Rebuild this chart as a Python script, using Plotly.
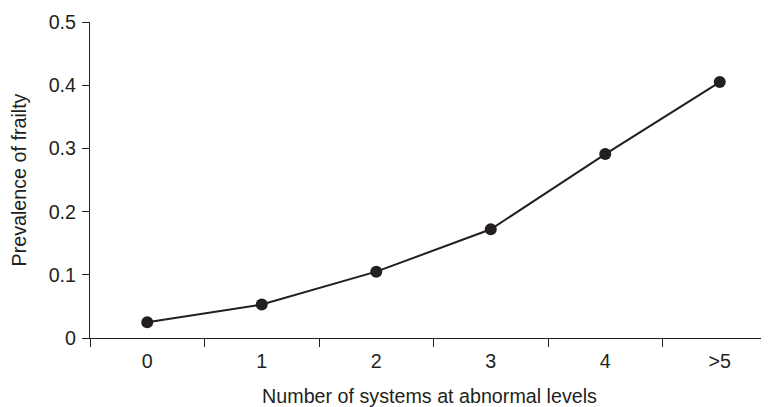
import plotly.graph_objects as go

categories = ["0", "1", "2", "3", "4", ">5"]
prevalence = [0.025, 0.053, 0.105, 0.172, 0.291, 0.405]
y_ticks = [0, 0.1, 0.2, 0.3, 0.4, 0.5]
y_tick_labels = ["0", "0.1", "0.2", "0.3", "0.4", "0.5"]

ink = "#231f20"
family = "Liberation Sans, Arial, sans-serif"
tick_font = dict(family=family, size=19.7, color=ink)
title_font = dict(family=family, size=19.7, color=ink)

fig = go.Figure(go.Scatter(
    x=categories, y=prevalence, mode="lines+markers",
    line=dict(color=ink, width=2),
    marker=dict(color=ink, size=12),
    showlegend=False, cliponaxis=False,
))

# page body has an 8px margin, so the figure is shifted accordingly
fig.update_layout(
    width=761, height=399,
    margin=dict(l=82, r=0, t=14, b=69),
    paper_bgcolor="white", plot_bgcolor="white",
    font=title_font,
    xaxis=dict(
        type="category", range=[-0.5, 5.43],
        tickson="boundaries", ticks="outside", ticklen=8, tickwidth=1, tickcolor=ink,
        showline=True, linecolor=ink, linewidth=1, showgrid=False, zeroline=False,
        title=dict(text="Number of systems at abnormal levels", standoff=21, font=title_font),
        tickfont=tick_font, automargin=False, ticklabelstandoff=5,
    ),
    yaxis=dict(
        range=[0, 0.5], tickvals=y_ticks, ticktext=y_tick_labels,
        ticks="outside", ticklen=7, tickwidth=1, tickcolor=ink,
        showline=True, linecolor=ink, linewidth=1, showgrid=False, zeroline=False,
        title=dict(text="Prevalence of frailty", standoff=17, font=title_font),
        tickfont=tick_font, automargin=False, ticklabelstandoff=2,
    ),
)

fig.write_html("out.html")
